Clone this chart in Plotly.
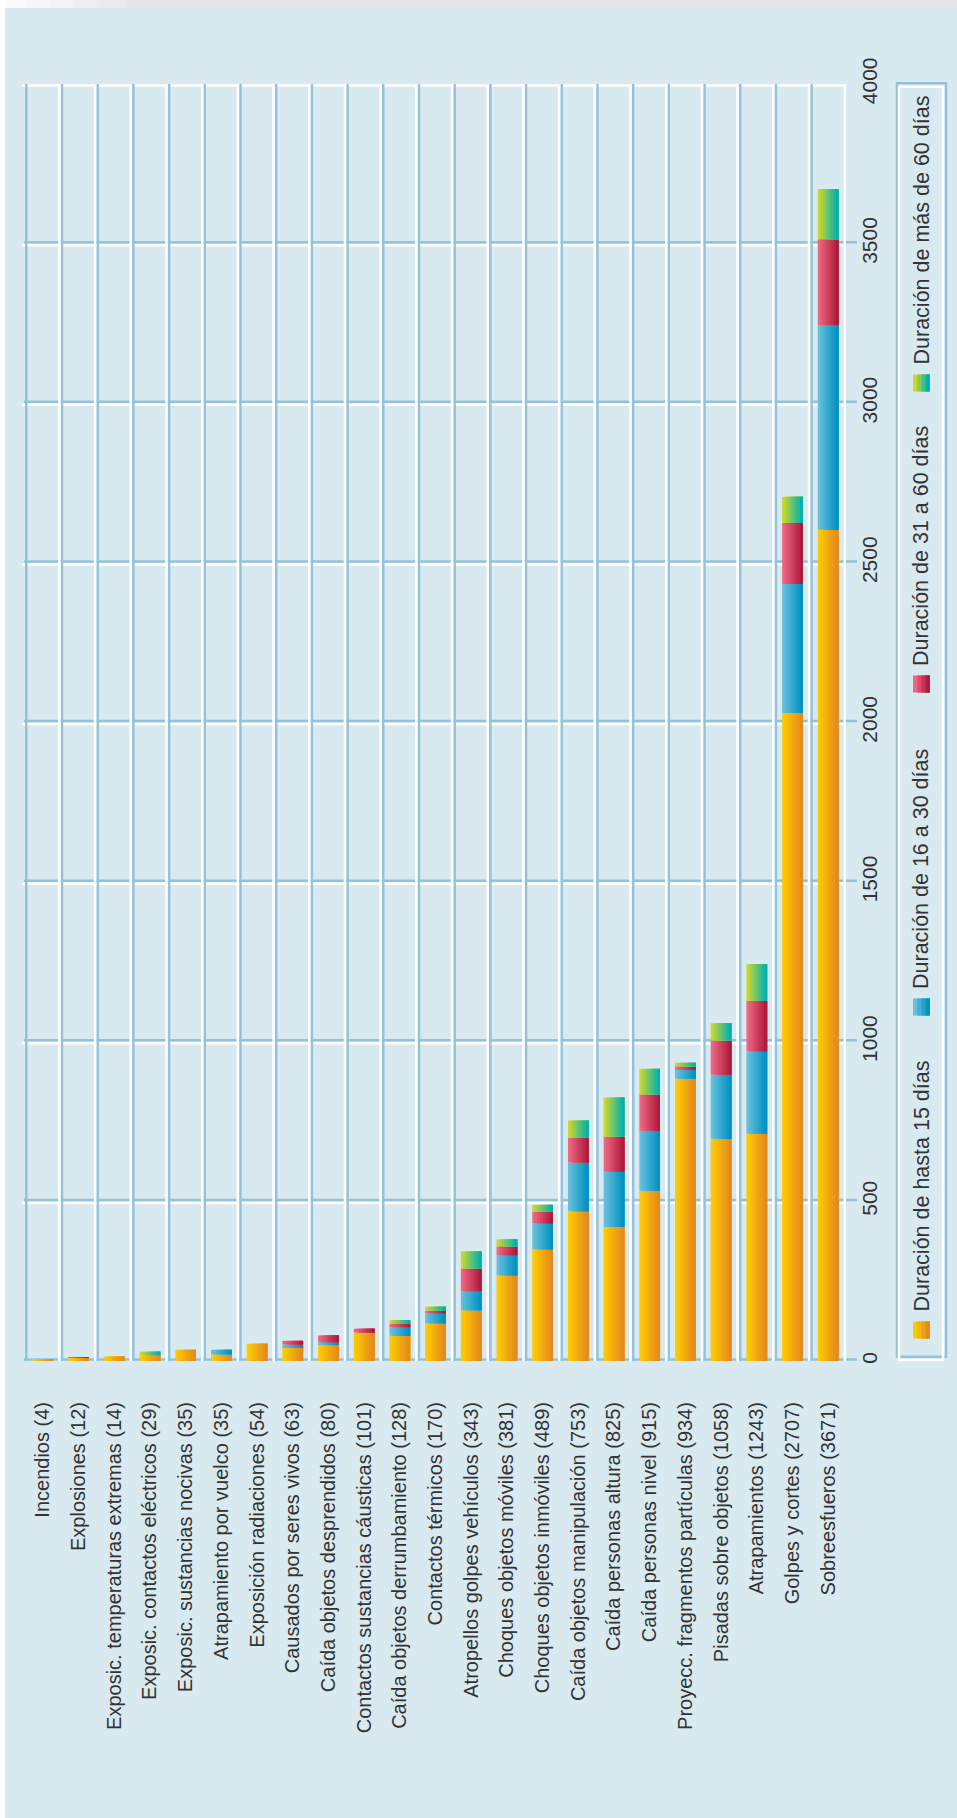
import plotly.graph_objects as go

# categories and totals shown in the labels
names = ['Incendios', 'Explosiones', 'Exposic. temperaturas extremas', 'Exposic. contactos eléctricos',
         'Exposic. sustancias nocivas', 'Atrapamiento por vuelco', 'Exposición radiaciones',
         'Causados por seres vivos', 'Caída objetos desprendidos', 'Contactos sustancias cáusticas',
         'Caída objetos derrumbamiento', 'Contactos térmicos', 'Atropellos golpes vehículos',
         'Choques objetos móviles', 'Choques objetos inmóviles', 'Caída objetos manipulación',
         'Caída personas altura', 'Caída personas nivel', 'Proyecc. fragmentos partículas',
         'Pisadas sobre objetos', 'Atrapamientos', 'Golpes y cortes', 'Sobreesfueros']
totals = [4, 12, 14, 29, 35, 35, 54, 63, 80, 101, 128, 170, 343, 381, 489, 753, 825, 915, 934, 1058, 1243, 2707, 3671]

hasta15 = [4, 10, 14, 18, 35, 21, 54, 41, 50, 89, 79, 118, 159, 268, 350, 469, 420, 533, 884, 696, 712, 2030, 2604]
de16a30 = [0, 1, 0, 0, 0, 14, 0, 11, 9, 0, 27, 31, 60, 63, 81, 153, 173, 188, 28, 201, 258, 404, 641]
de31a60 = [0, 1, 0, 0, 0, 0, 0, 11, 21, 12, 10, 9, 71, 28, 37, 78, 110, 114, 11, 107, 158, 191, 269]
mas60 = [0, 0, 0, 11, 0, 0, 0, 0, 0, 0, 12, 12, 53, 22, 21, 53, 122, 80, 11, 54, 115, 82, 157]

series_names = ['Duración de hasta 15 días', 'Duración de 16 a 30 días',
                'Duración de 31 a 60 días', 'Duración de más de 60 días']
y_ticks = [0, 500, 1000, 1500, 2000, 2500, 3000, 3500, 4000]

labels = [f'{n} ({t})' for n, t in zip(names, totals)]
series = [hasta15, de16a30, de31a60, mas60]
gradients = [('#fdca02', '#e58a1e'), ('#66bfdc', '#0092c2'), ('#ee6782', '#ae1a3d'), ('#c8d82e', '#00b0b2')]

BG = '#d9e9f0'
GRID = '#93c2da'
TXT = '#333333'
FONT = 'Liberation Sans, Arial, sans-serif'

# plot area in pixels
W, H = 957, 1818
L, R, T, B = 25, 846, 84, 1361


def px(x):
    return (x - L) / (R - L)


def py(y):
    return (B - y) / (B - T)


def mix(c1, c2, f):
    a = [int(c1[i:i + 2], 16) for i in (1, 3, 5)]
    b = [int(c2[i:i + 2], 16) for i in (1, 3, 5)]
    return '#%02x%02x%02x' % tuple(round(a[k] + (b[k] - a[k]) * f) for k in range(3))


fig = go.Figure()

# stacked bars with a left-to-right gradient made of overlapping strips
bw = 0.58
n_strips = 8
base = [0] * len(labels)
for vals, (c1, c2), nm in zip(series, gradients, series_names):
    for j in range(n_strips):
        fig.add_trace(go.Bar(x=labels, y=vals, base=base, name=nm,
                             width=bw - j * bw / n_strips, offset=-bw / 2 + j * bw / n_strips,
                             marker=dict(color=mix(c1, c2, j / (n_strips - 1)), line=dict(width=0)),
                             showlegend=False, hoverinfo='skip'))
    base = [b + v for b, v in zip(base, vals)]

shapes = []
# page edges: grey band on top fading to white at the left, white strip on the left
for i in range(6):
    shapes.append(dict(type='rect', xref='paper', yref='paper', x0=px(i * 25), x1=px(W), y0=py(0), y1=py(8),
                       fillcolor=mix('#fbfbfb', '#e6e6e6', i / 5), line=dict(width=0), layer='below'))
shapes.append(dict(type='rect', xref='paper', yref='paper', x0=px(0), x1=px(5), y0=py(0), y1=py(H),
                   fillcolor='white', line=dict(width=0), layer='below'))

# double grid lines (blue + white) for the category boundaries
nb = len(labels) + 1
for col, off in ((GRID, 1.3), ('white', -1.3)):
    for k in range(nb):
        shapes.append(dict(type='line', xref='x', yref='y', xsizemode='pixel', xanchor=k - 0.5,
                           x0=off, x1=off, y0=0, y1=4000, line=dict(color=col, width=2.5), layer='below'))
# value grid lines
for v in y_ticks:
    shapes.append(dict(type='line', xref='paper', yref='y', ysizemode='pixel', yanchor=v,
                       x0=px(24), x1=px(857), y0=1.5, y1=1.5, line=dict(color=GRID, width=2.5), layer='below'))
for v in y_ticks:
    shapes.append(dict(type='line', xref='paper', yref='y', ysizemode='pixel', yanchor=v,
                       x0=px(22), x1=px(843), y0=-1.5, y1=-1.5, line=dict(color='white', width=2.5), layer='below'))
# category ticks under the axis
for k in range(nb):
    shapes.append(dict(type='line', xref='x', yref='y', xsizemode='pixel', ysizemode='pixel',
                       xanchor=k - 0.5, yanchor=0, x0=1.3, x1=1.3, y0=0 if k == nb - 1 else -6, y1=-14,
                       line=dict(color=GRID, width=2.5), layer='below'))

# legend box
shapes.append(dict(type='rect', xref='paper', yref='paper', x0=px(897), x1=px(946), y0=py(1356.7), y1=py(83.3),
                   line=dict(color=GRID, width=2.5), layer='below'))
shapes.append(dict(type='rect', xref='paper', yref='paper', x0=px(899), x1=px(943), y0=py(1360), y1=py(86.7),
                   line=dict(color='white', width=2.5), layer='below'))

annotations = []
swatch_y = [1330, 1007, 684, 383]
for nm, (c1, c2), cy in zip(series_names, gradients, swatch_y):
    for j in range(4):
        shapes.append(dict(type='rect', xref='paper', yref='paper', x0=px(913 + j * 17 / 4), x1=px(930),
                           y0=py(cy + 8.5), y1=py(cy - 8.5), fillcolor=mix(c1, c2, j / 3),
                           line=dict(width=0)))
    annotations.append(dict(xref='paper', yref='paper', x=px(921), y=py(cy - 16), text=nm,
                            textangle=-90, xanchor='center', yanchor='bottom', showarrow=False,
                            font=dict(size=21.5, color=TXT, family=FONT)))

fig.update_layout(
    width=W, height=H, barmode='overlay',
    margin=dict(l=L, r=W - R, t=T, b=H - B, autoexpand=False),
    paper_bgcolor=BG, plot_bgcolor=BG, showlegend=False,
    shapes=shapes, annotations=annotations,
    font=dict(family=FONT, color=TXT),
    xaxis=dict(type='category', range=[-0.5, len(labels) - 0.5], showgrid=False, zeroline=False,
               showline=False, ticks='', tickangle=-90, ticklabelstandoff=36,
               tickfont=dict(size=20, color=TXT, family=FONT)),
    yaxis=dict(side='right', range=[0, 4000], tickvals=y_ticks, showgrid=False, zeroline=False,
               showline=False, ticks='', tickangle=-90, ticklabelstandoff=9,
               tickfont=dict(size=21, color=TXT, family=FONT)),
)

fig.write_html('out.html', config={'displayModeBar': False},
               post_script="document.body.style.margin='0';")
